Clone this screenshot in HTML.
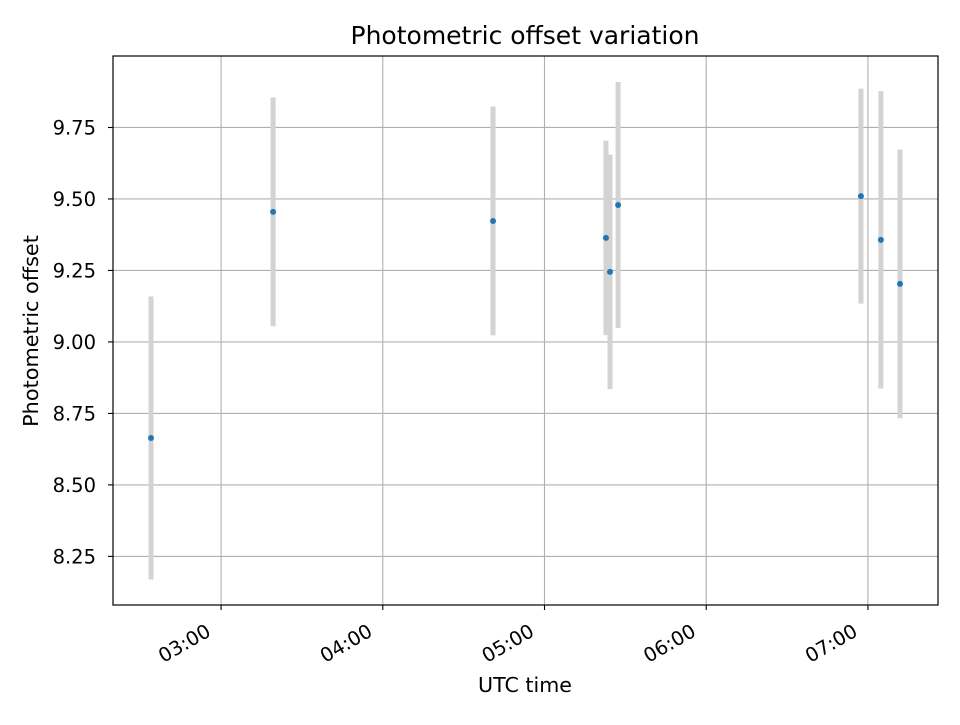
<!DOCTYPE html>
<html><head><meta charset="utf-8"><style>
body{margin:0;background:#fff;}
svg text{font-family:"DejaVu Sans","Liberation Sans",sans-serif;fill:#000;}
</style></head><body>
<svg id="chart" width="960" height="720" viewBox="0 0 960 720">
<rect width="960" height="720" fill="#fff"/>
<g id="grid"></g>
<g id="bars"></g>
<g id="points"></g>
<rect x="113" y="56" width="825" height="549" fill="none" stroke="#000" stroke-width="1.2"/>
<g id="ticks"></g>
<text x="525" y="44" font-size="25" text-anchor="middle">Photometric offset variation</text>
<text x="525" y="692" font-size="20.6" text-anchor="middle">UTC time</text>
<text transform="translate(38,331) rotate(-90)" font-size="20.8" text-anchor="middle">Photometric offset</text>
</svg>
<script>
// times in minutes after 00:00 UTC
const times = [154, 199.3, 280.9, 322.8, 324.3, 327.3, 417.4, 424.8, 431.9];
const offsets = [8.664, 9.455, 9.423, 9.364, 9.245, 9.479, 9.510, 9.357, 9.203];
const errors = [0.495, 0.40, 0.40, 0.34, 0.41, 0.43, 0.376, 0.52, 0.47];
const xTicks = [180, 240, 300, 360, 420];
const xTickLabels = ["03:00", "04:00", "05:00", "06:00", "07:00"];
const yTicks = [8.25, 8.5, 8.75, 9.0, 9.25, 9.5, 9.75];
const yTickLabels = ["8.25", "8.50", "8.75", "9.00", "9.25", "9.50", "9.75"];

const X0=113,X1=938,Y0=56,Y1=605;
const xMin=139.9,xMax=446.0,yMin=8.080,yMax=10.0;
const xs=t=>X0+(t-xMin)/(xMax-xMin)*(X1-X0);
const ys=v=>Y1-(v-yMin)/(yMax-yMin)*(Y1-Y0);
const NS="http://www.w3.org/2000/svg";
function mk(tag,attrs,parent){const e=document.createElementNS(NS,tag);for(const k in attrs)e.setAttribute(k,attrs[k]);parent.appendChild(e);return e;}
const grid=document.getElementById('grid'),ticks=document.getElementById('ticks');
xTicks.forEach((t,i)=>{
  const x=xs(t);
  const g=mk('line',{x1:x,x2:x,y1:Y0,y2:Y1,stroke:'#b0b0b0','stroke-width':1.1},grid);
  
  
  const tk=mk('line',{x1:x,x2:x,y1:Y1,y2:Y1+5,stroke:'#000','stroke-width':1.1},ticks);
  
  
  const tx=mk('text',{transform:`translate(${x-9},${Y1+30}) rotate(-30)`,'font-size':19.5,'text-anchor':'end'},ticks);
  tx.textContent=xTickLabels[i];
  
  
});
yTicks.forEach((v,i)=>{
  const y=ys(v);
  const g=mk('line',{x1:X0,x2:X1,y1:y,y2:y,stroke:'#b0b0b0','stroke-width':1.1},grid);
  
  
  const tk=mk('line',{x1:X0-5,x2:X0,y1:y,y2:y,stroke:'#000','stroke-width':1.1},ticks);
  
  
  const tx=mk('text',{x:X0-17,y:y+7,'font-size':19.5,'text-anchor':'end'},ticks);
  tx.textContent=yTickLabels[i];
  
  
});
const bars=document.getElementById('bars'),pts=document.getElementById('points');
times.forEach((t,i)=>{
  const x=xs(t);
  const b=mk('line',{x1:x,x2:x,y1:ys(offsets[i]+errors[i]),y2:ys(offsets[i]-errors[i]),stroke:'#d3d3d3','stroke-width':5},bars);
  
  
  const c=mk('circle',{cx:x,cy:ys(offsets[i]),r:3,fill:'#1f77b4'},pts);
  
  
});
</script>
</body></html>
